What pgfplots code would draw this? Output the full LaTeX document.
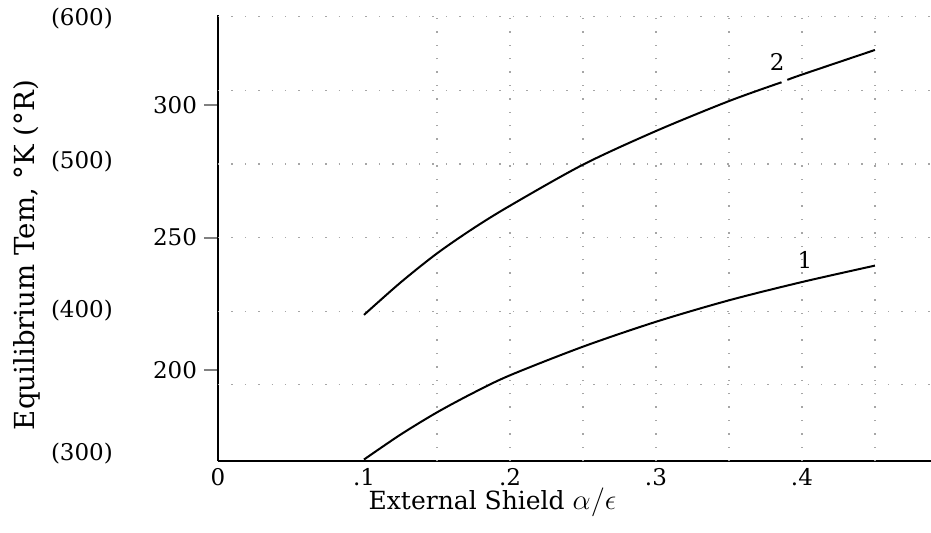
\documentclass[border=0pt]{standalone}
\usepackage{fontspec}
\setmainfont{DejaVu Serif}
\usepackage{pgfplots}
\pgfplotsset{compat=1.18}

% Curve 1
\pgfplotstableread{
x      T
0.100  166.2
0.125  175.6
0.150  184.0
0.175  191.4
0.200  198.0
0.250  208.8
0.300  218.2
0.350  226.3
0.400  233.2
0.450  239.4
}\curveone

% Curve 2, first stretch (up to the gap under the "2")
\pgfplotstableread{
x      T
0.100  220.8
0.125  233.0
0.150  244.0
0.175  253.5
0.200  262.0
0.250  277.5
0.300  290.2
0.350  301.5
0.386  308.6
}\curvetwoa

% Curve 2, second stretch
\pgfplotstableread{
x      T
0.390  309.5
0.400  311.5
0.450  320.8
}\curvetwob

\begin{document}
\begin{tikzpicture}
\useasboundingbox (-109pt,-35.8pt) rectangle (356.5pt,230.7pt);
\begin{axis}[
  scale only axis,
  width=356.5pt, height=223.2pt,
  xmin=0, xmax=0.4884,
  ymin=165.5, ymax=334,
  axis x line=bottom, axis y line=left,
  axis line style={-, line width=1.1pt},
  clip=false,
  font=\fontsize{11.5}{13}\selectfont,
  xtick={0,0.1,0.2,0.3,0.4},
  xticklabels={0,.1,.2,.3,.4},
  xtick style={draw=none},
  xticklabel style={yshift=7pt},
  ytick={200,250,300},
  yticklabels={200,250,300},
  ytick style={line width=1pt},
  tick align=outside,
  major tick length=7pt,
  extra x ticks={0.15,0.2,0.25,0.3,0.35,0.4,0.45},
  extra x tick labels={},
  extra x tick style={grid=major, major tick length=0pt},
  extra y ticks={194.44,222.22,250,277.78,305.56,333.33},
  extra y tick labels={},
  extra y tick style={grid=major, major tick length=0pt},
  major grid style={black!35, line width=0.6pt, dash pattern=on 0.7pt off 6pt},
]
\addplot[black, line width=1pt, smooth, tension=0.5] table[x=x, y=T] {\curveone};
\addplot[black, line width=1pt, smooth, tension=0.5] table[x=x, y=T] {\curvetwoa};
\addplot[black, line width=1pt, smooth, tension=0.5] table[x=x, y=T] {\curvetwob};

\node at (axis cs:0.402,241.5) {1};
\node at (axis cs:0.383,316.2) {2};

% Rankine scale
\node at (axis cs:-0.0932,332.5) {(600)};
\node at (axis cs:-0.0932,278.5) {(500)};
\node at (axis cs:-0.0932,222.4) {(400)};
\node at (axis cs:-0.0932,168.5) {(300)};

\node[rotate=90, font=\fontsize{13.8}{15}\selectfont] at (axis cs:-0.1308,243.4) {Equilibrium Tem, °K (°R)};
\node[font=\fontsize{12.5}{14}\selectfont] at (axis cs:0.188,150.2) {External Shield {\Large$\alpha/\epsilon$}};
\end{axis}
\end{tikzpicture}
\end{document}
